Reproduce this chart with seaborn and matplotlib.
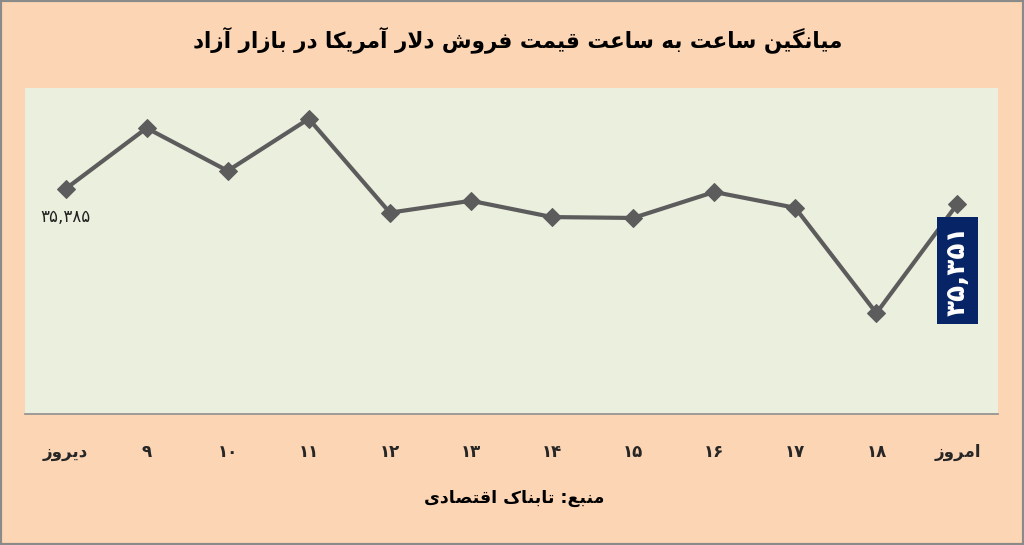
import numpy as np
import pandas as pd
import seaborn as sns
import matplotlib
matplotlib.use('Agg')
import matplotlib.pyplot as plt
from matplotlib.patches import Rectangle

# data
hours = ['دیروز', '۹', '۱۰', '۱۱', '۱۲', '۱۳', '۱۴', '۱۵', '۱۶', '۱۷', '۱۸', 'امروز']
prices = [35385, 35523, 35426, 35544, 35331, 35358, 35321, 35319, 35378, 35342, 35103, 35351]
first_label = '۳۵,۳۸۵'
last_label = '۳۵,۳۵۱'
title = 'میانگین ساعت به ساعت قیمت فروش دلار آمریکا در بازار آزاد'
source = 'منبع: تابناک اقتصادی'

# matplotlib has no arabic shaping, so map letters to presentation forms
FORMS = {
    'ا': ('\uFE8D', '\uFE8E'), 'آ': ('\uFE81', '\uFE82'),
    'د': ('\uFEA9', '\uFEAA'), 'ر': ('\uFEAD', '\uFEAE'),
    'ز': ('\uFEAF', '\uFEB0'), 'و': ('\uFEED', '\uFEEE'),
    'ب': ('\uFE8F', '\uFE90', '\uFE91', '\uFE92'),
    'ت': ('\uFE95', '\uFE96', '\uFE97', '\uFE98'),
    'س': ('\uFEB1', '\uFEB2', '\uFEB3', '\uFEB4'),
    'ش': ('\uFEB5', '\uFEB6', '\uFEB7', '\uFEB8'),
    'ص': ('\uFEB9', '\uFEBA', '\uFEBB', '\uFEBC'),
    'ع': ('\uFEC9', '\uFECA', '\uFECB', '\uFECC'),
    'ف': ('\uFED1', '\uFED2', '\uFED3', '\uFED4'),
    'ق': ('\uFED5', '\uFED6', '\uFED7', '\uFED8'),
    'ل': ('\uFEDD', '\uFEDE', '\uFEDF', '\uFEE0'),
    'م': ('\uFEE1', '\uFEE2', '\uFEE3', '\uFEE4'),
    'ن': ('\uFEE5', '\uFEE6', '\uFEE7', '\uFEE8'),
    'ه': ('\uFEE9', '\uFEEA', '\uFEEB', '\uFEEC'),
    'ک': ('\uFB8E', '\uFB8F', '\uFB90', '\uFB91'),
    'گ': ('\uFB92', '\uFB93', '\uFB94', '\uFB95'),
    'ی': ('\uFBFC', '\uFBFD', '\uFBFE', '\uFBFF'),
}


def shape(text):
    if not any(c in FORMS for c in text):
        return text  # digits only, keep left to right
    chars = list(text)
    out = []
    i = 0
    while i < len(chars):
        c = chars[i]
        if c not in FORMS:
            out.append(c)
            i += 1
            continue
        prev = chars[i - 1] if i > 0 else ''
        joins_prev = prev in FORMS and len(FORMS[prev]) == 4
        if c == 'ل' and i + 1 < len(chars) and chars[i + 1] == 'ا':
            out.append('\uFEFC' if joins_prev else '\uFEFB')
            i += 2
            continue
        nxt = chars[i + 1] if i + 1 < len(chars) else ''
        joins_next = len(FORMS[c]) == 4 and nxt in FORMS
        f = FORMS[c]
        if joins_prev and joins_next:
            out.append(f[3])
        elif joins_prev:
            out.append(f[1])
        elif joins_next:
            out.append(f[2])
        else:
            out.append(f[0])
        i += 1
    return ''.join(reversed(out))


sns.set_style('white')
plt.rcParams['font.family'] = ['DejaVu Sans']

bg = '#FCD5B4'
panel = '#EBEFDE'
line_c = '#5C5C5C'

df = pd.DataFrame({'x': np.arange(len(prices)), 'price': prices})

fig = plt.figure(figsize=(10.24, 5.45), dpi=100, facecolor=bg)
ax = fig.add_axes([25 / 1024, 1 - 414 / 545, 973 / 1024, 326 / 545])
ax.set_facecolor(panel)

sns.lineplot(data=df, x='x', y='price', ax=ax, color=line_c, linewidth=3,
             marker='D', markersize=9, markeredgecolor=line_c)

ax.set_xlim(-0.5, len(prices) - 0.5)
ax.set_ylim(34874, 35614)
ax.set_yticks([])
ax.set_xticks(df['x'])
ax.set_xticklabels([shape(h) for h in hours], fontsize=12, fontweight='bold')
ax.tick_params(axis='x', length=0, pad=21)
ax.set_xlabel('')
ax.set_ylabel('')
for s in ['top', 'left', 'right']:
    ax.spines[s].set_visible(False)
ax.spines['bottom'].set_color('#8E8E8E')
ax.spines['bottom'].set_linewidth(1.2)

# value labels
ax.annotate(first_label, (0, prices[0]), xytext=(0, -20), textcoords='offset points',
            ha='center', va='center', fontsize=12, color='#222222')
ax.annotate(last_label, (len(prices) - 1, prices[-1]), xytext=(0, -48),
            textcoords='offset points', ha='center', va='center', rotation=90,
            fontsize=19, fontweight='bold', color='white',
            bbox=dict(boxstyle='square,pad=0.3', fc='#062466', ec='none'))

fig.text(0.506, 0.927, shape(title), ha='center', va='center',
         fontsize=15.5, fontweight='bold', color='black')
fig.text(0.502, 0.087, shape(source), ha='center', va='center',
         fontsize=12.5, fontweight='bold', color='black')

fig.patches.append(Rectangle((0, 0), 1, 1, transform=fig.transFigure,
                             fill=False, edgecolor='#8A8A8A', linewidth=3))

fig.savefig('out.png', dpi=100, facecolor=bg)
